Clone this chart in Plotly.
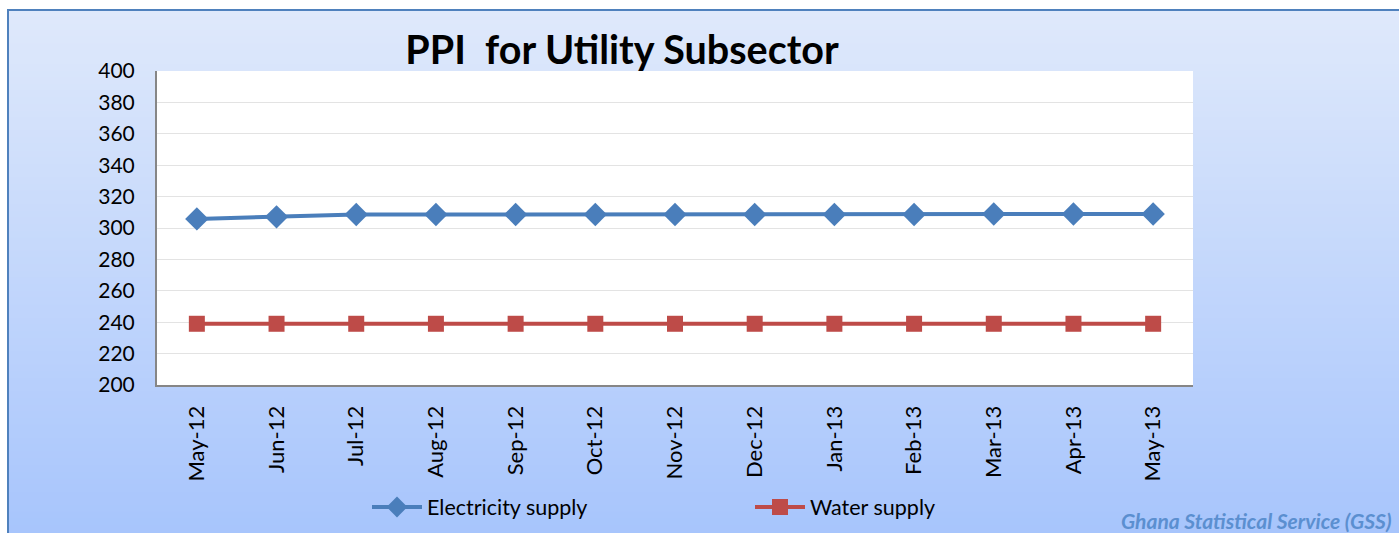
import plotly.graph_objects as go

months = ["May-12", "Jun-12", "Jul-12", "Aug-12", "Sep-12", "Oct-12", "Nov-12",
          "Dec-12", "Jan-13", "Feb-13", "Mar-13", "Apr-13", "May-13"]
electricity = [305.8, 307.1, 308.6, 308.6, 308.6, 308.6, 308.6,
               308.6, 308.6, 308.6, 308.9, 308.9, 308.9]
water = [239.0, 239.0, 239.0, 239.0, 239.0, 239.0, 239.0,
         239.0, 239.0, 239.0, 239.0, 239.0, 239.0]

W, H = 1399, 533
L, R, T, B = 157, 1193, 71, 385
FONT = "Lato, 'Open Sans', sans-serif"


def px2x(p):
    return (p - L) / (R - L)


def py2y(p):
    return (B - p) / (B - T)


fig = go.Figure()
fig.add_trace(go.Scatter(
    x=months, y=electricity, name="Electricity supply", mode="lines+markers",
    line=dict(color="#4a7ebb", width=4),
    marker=dict(symbol="diamond", size=18, color="#4a7ebb"),
))
fig.add_trace(go.Scatter(
    x=months, y=water, name="Water supply", mode="lines+markers",
    line=dict(color="#be4b48", width=4),
    marker=dict(symbol="square", size=16, color="#be4b48"),
))

# gradient background frame (stacked strips to avoid seams)
shapes = []
top_c = (0xdf, 0xe9, 0xfb)
bot_c = (0xa6, 0xc4, 0xfc)
y_top, y_bot = 10, 545
n = 80
for i in range(n):
    a = y_top + (y_bot - y_top) * i / n
    t = (i + 0.5) / n
    c = tuple(int(round(top_c[k] + (bot_c[k] - top_c[k]) * t)) for k in range(3))
    shapes.append(dict(type="rect", xref="paper", yref="paper", layer="below",
                       x0=px2x(8), x1=px2x(1410), y0=py2y(y_bot), y1=py2y(a),
                       line=dict(width=0), fillcolor="rgb(%d,%d,%d)" % c))
shapes.append(dict(type="rect", xref="paper", yref="paper", layer="below",
                   x0=px2x(8), x1=px2x(1410), y0=py2y(y_bot), y1=py2y(y_top),
                   line=dict(width=2, color="#4f81bd"), fillcolor="rgba(0,0,0,0)"))
# white plot area
shapes.append(dict(type="rect", xref="paper", yref="paper", layer="below",
                   x0=0, x1=1, y0=0, y1=1, line=dict(width=0), fillcolor="white"))

fig.update_layout(
    width=W, height=H,
    margin=dict(l=L, r=W - R, t=T, b=H - B, autoexpand=False),
    paper_bgcolor="white",
    plot_bgcolor="rgba(0,0,0,0)",
    shapes=shapes,
    font=dict(family=FONT, size=21, color="black"),
    title=dict(text="<b>PPI  for Utility Subsector</b>", x=622 / W,
               xanchor="center", y=1 - 50 / H, yanchor="middle",
               font=dict(family=FONT, size=39.5, color="black")),
    showlegend=True,
    legend=dict(orientation="h", xref="container", yref="container",
                x=367 / W, xanchor="left", y=1 - 507 / H, yanchor="middle",
                font=dict(family=FONT, size=21.5, color="black"), bgcolor="rgba(0,0,0,0)",
                entrywidth=318, itemwidth=50),
    xaxis=dict(type="category", range=[-0.5, 12.5], tickangle=-90,
               showline=True, linecolor="#868686", linewidth=2, ticks="",
               showgrid=False, tickfont=dict(size=22), ticklabelstandoff=10,
               automargin=False),
    yaxis=dict(range=[200, 400], dtick=20, showline=True, linecolor="#868686", linewidth=2,
               gridcolor="#e3e3e3", gridwidth=1, ticks="", tickfont=dict(size=21),
               zeroline=False, ticklabelstandoff=16, automargin=False),
    annotations=[dict(text="<b><i>Ghana Statistical Service (GSS)</i></b>", xref="paper", yref="paper",
                      x=px2x(1393), y=py2y(520), xanchor="right", yanchor="middle", showarrow=False,
                      font=dict(family=FONT, size=21, color="#5b8fd0"))],
)

fig.write_html("out.html", config={"displayModeBar": False},
               post_script="document.body.style.margin='0';document.body.style.overflow='hidden';")
